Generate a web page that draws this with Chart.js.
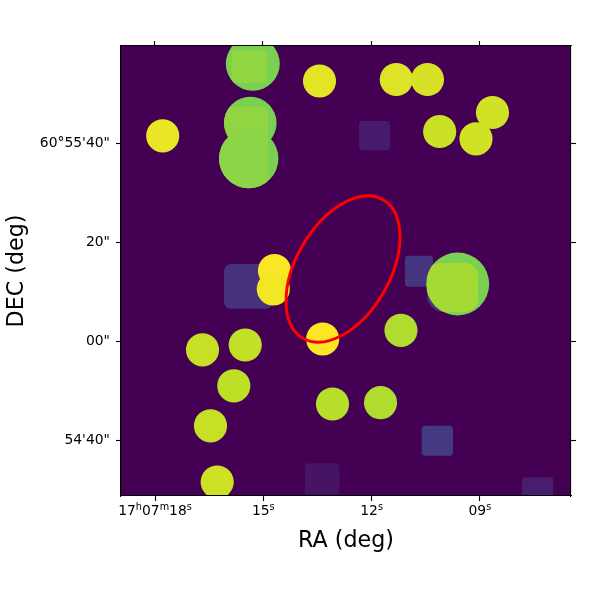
<!DOCTYPE html>
<html lang="en">
<head>
  <meta charset="UTF-8" />
  <title>RA / DEC image</title>
  <script src="https://cdn.jsdelivr.net/npm/chart.js"></script>
  <style>
    html, body { margin: 0; padding: 0; background: #fff; }
    canvas { display: block; }
  </style>
</head>
<body>
  <canvas id="sky" width="600" height="600"></canvas>

  <script>
    // RA in seconds after 17h07m, DEC in arcsec after 60d54m
    const raLimits = [18.942, 6.476];
    const decLimits = [28.73, 119.64];

    const raTicks = [18, 15, 12, 9];
    const raTopTicks = [18.02, 15.03, 11.99, 9.02];
    // digits and their raised unit letter
    const raTickLabels = [[['17', 'h'], ['07', 'm'], ['18', 's']], [['15', 's']], [['12', 's']], [['09', 's']]];
    const decTicks = [100, 80, 60, 40];
    const decTickLabels = ['60°55\'40"', '20"', '00"', '54\'40"'];

    // round sources
    const discRa = [15.291, 15.360, 15.404, 17.787, 13.443, 11.316, 10.452, 8.651, 10.114, 9.108, 14.690, 14.723, 13.355, 15.501, 11.186, 16.684, 15.817, 13.083, 11.753, 16.463, 16.277, 9.615];
    const discDec = [116.06, 104.08, 96.89, 101.49, 112.57, 112.87, 112.87, 106.2, 102.36, 100.89, 74.28, 70.55, 60.44, 59.23, 62.2, 58.26, 50.99, 47.31, 47.58, 42.91, 31.56, 71.56];
    const discSize = [5.45, 5.31, 6.0, 3.35, 3.35, 3.35, 3.35, 3.35, 3.35, 3.35, 3.35, 3.35, 3.35, 3.35, 3.35, 3.35, 3.35, 3.35, 3.35, 3.35, 3.35, 6.36];
    const discValue = [0.8, 0.8, 0.8, 0.97, 0.96, 0.95, 0.94, 0.93, 0.92, 0.93, 0.995, 0.985, 1.0, 0.91, 0.88, 0.915, 0.9, 0.89, 0.88, 0.915, 0.925, 0.8];

    // faint square exposures
    const boxEast = [12.349, 16.089, 11.075, 10.612, 7.834, 13.845, 10.465];
    const boxWest = [11.490, 14.731, 10.299, 9.745, 6.967, 12.895, 9.053];
    const boxNorth = [104.48, 75.6, 77.27, 42.93, 32.5, 35.33, 75.8];
    const boxSouth = [98.57, 66.57, 71.01, 36.87, 27.9, 27.9, 65.9];
    const boxCorner = [0.7, 1.4, 0.7, 0.7, 0.7, 0.7, 3.4];
    const boxValue = [0.07, 0.14, 0.15, 0.17, 0.08, 0.05, 0.16];

    // squares that only show where they overlap a disc
    const overlapDisc = [0, 1, 2, 21];
    const overlapEast = [15.875, 16.5, 16.5, 10.465];
    const overlapWest = [14.898, 14.87, 14.87, 9.053];
    const overlapNorth = [118.83, 107.4, 102.6, 75.8];
    const overlapSouth = [112.22, 98.6, 90.0, 65.9];
    const overlapCorner = [0.8, 1.4, 2.8, 2.6];
    const overlapValue = [0.833, 0.835, 0.825, 0.864];

    // red region
    const regionRa = 12.792;
    const regionDec = 74.59;
    const regionMajor = 16.16;
    const regionMinor = 9.45;
    const regionAngle = -60;

    const viridis = ['#440154', '#482475', '#414487', '#355f8d', '#2a788e', '#21918c', '#22a884', '#44bf70', '#7ad151', '#bddf26', '#fde725'];

    function hexToRgb(hex) {
      return [1, 3, 5].map(i => parseInt(hex.slice(i, i + 2), 16));
    }

    function valueColor(v) {
      const pos = Math.min(v * 10, 9.999);
      const i = Math.floor(pos);
      const a = hexToRgb(viridis[i]);
      const b = hexToRgb(viridis[i + 1]);
      const c = a.map((n, k) => Math.round(n + (b[k] - n) * (pos - i)));
      return `rgb(${c[0]}, ${c[1]}, ${c[2]})`;
    }

    function pxPerArcsec(chart) {
      const y = chart.scales.y;
      return y.getPixelForValue(0) - y.getPixelForValue(1);
    }

    function boxPath(ctx, chart, east, west, north, south, corner) {
      const { x, y } = chart.scales;
      const x0 = x.getPixelForValue(east);
      const x1 = x.getPixelForValue(west);
      const y0 = y.getPixelForValue(north);
      const y1 = y.getPixelForValue(south);
      ctx.beginPath();
      ctx.roundRect(x0, y0, x1 - x0, y1 - y0, corner * pxPerArcsec(chart));
    }

    const skyLayers = {
      id: 'skyLayers',
      beforeDatasetsDraw(chart) {
        const { ctx, chartArea: a } = chart;
        ctx.save();
        ctx.beginPath();
        ctx.rect(a.left, a.top, a.width, a.height);
        ctx.clip();
        ctx.fillStyle = viridis[0];
        ctx.fillRect(a.left, a.top, a.width, a.height);
        boxValue.forEach((v, i) => {
          boxPath(ctx, chart, boxEast[i], boxWest[i], boxNorth[i], boxSouth[i], boxCorner[i]);
          ctx.fillStyle = valueColor(v);
          ctx.fill();
        });
        ctx.restore();
      },
      afterDatasetsDraw(chart) {
        const { ctx, chartArea: a, scales } = chart;
        const scale = pxPerArcsec(chart);
        ctx.save();
        ctx.beginPath();
        ctx.rect(a.left, a.top, a.width, a.height);
        ctx.clip();
        overlapValue.forEach((v, i) => {
          const d = overlapDisc[i];
          ctx.save();
          ctx.beginPath();
          ctx.arc(scales.x.getPixelForValue(discRa[d]), scales.y.getPixelForValue(discDec[d]), discSize[d] * scale, 0, Math.PI * 2);
          ctx.clip();
          boxPath(ctx, chart, overlapEast[i], overlapWest[i], overlapNorth[i], overlapSouth[i], overlapCorner[i]);
          ctx.fillStyle = valueColor(v);
          ctx.fill();
          ctx.restore();
        });
        ctx.beginPath();
        ctx.ellipse(scales.x.getPixelForValue(regionRa), scales.y.getPixelForValue(regionDec),
          regionMajor * scale, regionMinor * scale, regionAngle * Math.PI / 180, 0, Math.PI * 2);
        ctx.strokeStyle = '#ff0000';
        ctx.lineWidth = 3;
        ctx.stroke();
        ctx.restore();
      },
      // the RA labels need real superscripts, the tick callback can't do that
      afterDraw(chart) {
        const { ctx, scales } = chart;
        const baseline = 515;
        const bigFont = '13.9px "DejaVu Sans"';
        const smallFont = '9.7px "DejaVu Sans"';
        ctx.save();
        ctx.fillStyle = '#000';
        ctx.textBaseline = 'alphabetic';
        ctx.textAlign = 'left';
        raTicks.forEach((tick, i) => {
          let width = 0;
          raTickLabels[i].forEach(([digits, unit]) => {
            ctx.font = bigFont;
            width += ctx.measureText(digits).width;
            ctx.font = smallFont;
            width += ctx.measureText(unit).width;
          });
          let x = scales.x.getPixelForValue(tick) - width / 2;
          raTickLabels[i].forEach(([digits, unit]) => {
            ctx.font = bigFont;
            ctx.fillText(digits, x, baseline);
            x += ctx.measureText(digits).width;
            ctx.font = smallFont;
            ctx.fillText(unit, x, baseline - 5);
            x += ctx.measureText(unit).width;
          });
        });
        ctx.restore();
      }
    };

    const tickFont = { family: 'DejaVu Sans', size: 13.9 };
    const titleFont = { family: 'DejaVu Sans', size: 22.2 };
    const edge = { display: true, color: '#000', width: 1.1, z: 1 };
    const marks = { drawOnChartArea: false, tickColor: '#000', tickWidth: 1.1, tickLength: 5 };

    new Chart(document.getElementById('sky'), {
      type: 'scatter',
      data: {
        datasets: [{
          data: discRa.map((ra, i) => ({ x: ra, y: discDec[i] })),
          pointRadius: c => discSize[c.dataIndex] * pxPerArcsec(c.chart),
          pointBackgroundColor: c => valueColor(discValue[c.dataIndex]),
          pointBorderWidth: 0
        }]
      },
      options: {
        responsive: false,
        animation: false,
        events: [],
        plugins: { legend: { display: false }, tooltip: { enabled: false } },
        layout: { padding: 0 },
        scales: {
          x: {
            type: 'linear',
            position: 'bottom',
            reverse: true,
            min: raLimits[1],
            max: raLimits[0],
            border: edge,
            grid: marks,
            afterBuildTicks: s => { s.ticks = raTicks.map(value => ({ value })); },
            afterFit: s => { s.height = 104; },
            ticks: { display: false },
            title: { display: true, text: 'RA (deg)', color: '#000', font: titleFont, padding: { top: 0, bottom: 45 } }
          },
          y: {
            type: 'linear',
            position: 'left',
            min: decLimits[0],
            max: decLimits[1],
            border: edge,
            grid: marks,
            afterBuildTicks: s => { s.ticks = decTicks.map(value => ({ value })); },
            afterFit: s => { s.width = 121; },
            ticks: {
              autoSkip: false,
              color: '#000',
              padding: 6,
              font: tickFont,
              callback: (v, i) => decTickLabels[i]
            },
            title: { display: true, text: 'DEC (deg)', color: '#000', font: titleFont, padding: { top: 4, bottom: 0 } }
          },
          x2: {
            type: 'linear',
            axis: 'x',
            position: 'top',
            reverse: true,
            min: raLimits[1],
            max: raLimits[0],
            border: edge,
            grid: marks,
            afterBuildTicks: s => { s.ticks = raTopTicks.map(value => ({ value })); },
            afterFit: s => { s.height = 46; },
            ticks: { display: false }
          },
          y2: {
            type: 'linear',
            axis: 'y',
            position: 'right',
            min: decLimits[0],
            max: decLimits[1],
            border: edge,
            grid: marks,
            afterBuildTicks: s => { s.ticks = decTicks.map(value => ({ value })); },
            afterFit: s => { s.width = 29; },
            ticks: { display: false }
          }
        }
      },
      plugins: [skyLayers]
    });
  </script>
</body>
</html>
